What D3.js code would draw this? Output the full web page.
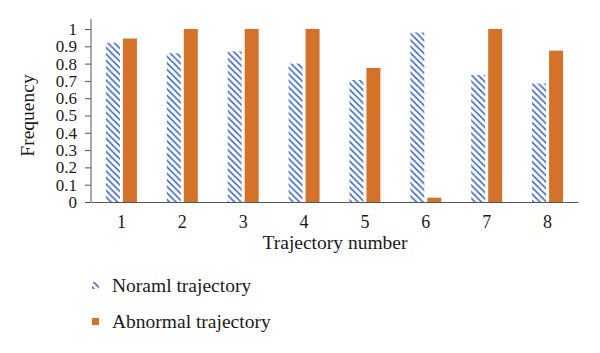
<!DOCTYPE html>
<html lang="en">
<head>
<meta charset="UTF-8">
<title>Frequency by trajectory</title>
<script src="https://d3js.org/d3.v7.min.js"></script>
<style>
  body { margin: 0; background: #fff; }
  svg text { font-family: "Liberation Serif", "DejaVu Serif", serif; fill: #1a1a1a; }
</style>
</head>
<body>
<div id="container"></div>
<script>
// Data
const trajectories = ["1", "2", "3", "4", "5", "6", "7", "8"];
const normalValues = [0.92, 0.86, 0.87, 0.80, 0.705, 0.98, 0.735, 0.685];
const abnormalValues = [0.945, 1.0, 1.0, 1.0, 0.775, 0.025, 1.0, 0.875];
const yTicks = [0, 0.1, 0.2, 0.3, 0.4, 0.5, 0.6, 0.7, 0.8, 0.9, 1];
const seriesNames = ["Noraml trajectory", "Abnormal trajectory"];

const W = 600, H = 353;
const plotLeft = 91, plotRight = 578, plotTop = 29, plotBottom = 202;

const svg = d3.select("#container").append("svg")
    .attr("width", W).attr("height", H);

// Hatch pattern for the normal series
const defs = svg.append("defs");
defs.append("pattern")
    .attr("id", "hatch")
    .attr("patternUnits", "userSpaceOnUse")
    .attr("width", 6.5).attr("height", 6.5)
    .append("path")
    .attr("d", "M0,0 L6.5,6.5 M-1,5.5 L1,7.5 M5.5,-1 L7.5,1")
    .attr("stroke", "#4169C0")
    .attr("stroke-width", 1.6);

// Scales
const x = d3.scaleBand().domain(trajectories).range([plotLeft, plotRight]);
const y = d3.scaleLinear().domain([0, 1]).range([plotBottom, plotTop]);
const barW = 14, gap = 3;

// Bars
const groups = svg.append("g").selectAll("g")
    .data(trajectories)
    .join("g");

groups.append("rect")
    .attr("x", d => x(d) + x.bandwidth() / 2 - gap / 2 - barW)
    .attr("y", (d, i) => y(normalValues[i]))
    .attr("width", barW)
    .attr("height", (d, i) => y(0) - y(normalValues[i]))
    .attr("fill", "url(#hatch)");

groups.append("rect")
    .attr("x", d => x(d) + x.bandwidth() / 2 + gap / 2)
    .attr("y", (d, i) => y(abnormalValues[i]))
    .attr("width", barW)
    .attr("height", (d, i) => y(0) - y(abnormalValues[i]))
    .attr("fill", "#D4722A");

// Y axis
svg.append("g")
    .attr("transform", `translate(${plotLeft},0)`)
    .call(d3.axisLeft(y).tickValues(yTicks).tickFormat(d => d).tickSize(6).tickPadding(8).tickSizeOuter(0))
    .call(g => g.select(".domain").attr("stroke", "#555").attr("d", `M0,${plotBottom}V${plotTop - 10}`))
    .call(g => g.selectAll(".tick line").attr("stroke", "#555"))
    .call(g => g.selectAll("text").attr("font-size", 17).attr("fill", "#1a1a1a"));

// X axis
svg.append("g")
    .attr("transform", `translate(0,${plotBottom})`)
    .call(d3.axisBottom(x).tickSize(0).tickPadding(13))
    .call(g => g.select(".domain").attr("stroke", "#555"))
    .call(g => g.selectAll("text").attr("font-size", 18).attr("fill", "#1a1a1a"));

// Axis titles
svg.append("text")
    .attr("transform", `translate(34,${(plotTop + plotBottom) / 2}) rotate(-90)`)
    .attr("text-anchor", "middle")
    .attr("font-size", 19.5)
    .text("Frequency");

svg.append("text")
    .attr("x", 335).attr("y", 249)
    .attr("text-anchor", "middle")
    .attr("font-size", 19.5)
    .text("Trajectory number");

// Legend
const legend = svg.append("g");
seriesNames.forEach((name, i) => {
    const ly = 286 + i * 36;
    legend.append("rect")
        .attr("x", 92).attr("y", ly - 4)
        .attr("width", 7).attr("height", 7)
        .attr("fill", i === 0 ? "url(#hatch)" : "#D4722A");
    legend.append("text")
        .attr("x", 112).attr("y", ly + 6)
        .attr("font-size", 19.5)
        .text(name);
});
</script>
</body>
</html>
